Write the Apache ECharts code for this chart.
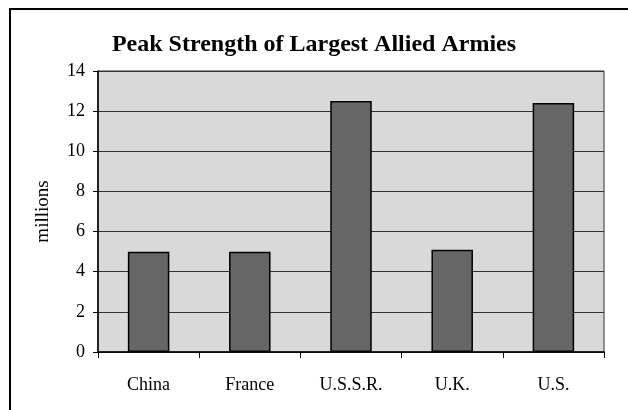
<!DOCTYPE html>
<html>
<head>
<meta charset="utf-8">
<script src="https://cdn.jsdelivr.net/npm/echarts@6/dist/echarts.min.js"></script>
<style>html,body{margin:0;padding:0;background:#fff;}#c{width:628px;height:410px;}</style>
</head>
<body>
<div id="c"></div>
<script>
const categories = ["China", "France", "U.S.S.R.", "U.K.", "U.S."];
const strength = [5.0, 5.0, 12.5, 5.1, 12.4];
const yTicks = [0, 2, 4, 6, 8, 10, 12, 14];
const titleText = "Peak Strength of Largest Allied Armies";
const yName = "millions";

const FONT = "'Liberation Serif', 'DejaVu Serif', serif";
const chart = echarts.init(document.getElementById('c'), null, {renderer: 'canvas'});
chart.setOption({
  backgroundColor: '#ffffff',
  animation: false,
  title: {
    text: titleText,
    left: 'center',
    top: 28,
    textStyle: {fontFamily: FONT, fontWeight: 'bold', fontSize: 24, color: '#000'}
  },
  graphic: [{
    type: 'rect',
    shape: {x: 10, y: 9, width: 640, height: 420},
    style: {fill: 'none', stroke: '#000', lineWidth: 2},
    silent: true
  }],
  grid: {
    left: 98, right: 24, top: 71, bottom: 58,
    show: true, backgroundColor: '#D9D9D9', borderColor: '#333', borderWidth: 1
  },
  xAxis: {
    type: 'category',
    data: categories,
    axisLine: {lineStyle: {color: '#000', width: 1.5}},
    axisTick: {show: true, alignWithLabel: false, length: 6, lineStyle: {color: '#000'}},
    axisLabel: {fontFamily: FONT, fontSize: 18, color: '#000', margin: 24}
  },
  yAxis: {
    type: 'value',
    min: yTicks[0], max: yTicks[yTicks.length - 1], interval: 2,
    name: yName,
    nameLocation: 'middle',
    nameGap: 45,
    nameRotate: 90,
    nameTextStyle: {fontFamily: FONT, fontSize: 19, color: '#000'},
    axisLine: {show: true, lineStyle: {color: '#000', width: 1.5}},
    axisTick: {show: true, length: 5, lineStyle: {color: '#000'}},
    axisLabel: {fontFamily: FONT, fontSize: 18, color: '#000', margin: 13},
    splitLine: {show: true, lineStyle: {color: '#333', width: 1}}
  },
  series: [{
    type: 'bar',
    data: strength,
    barWidth: '41%',
    itemStyle: {color: '#666666', borderColor: '#000', borderWidth: 1.5}
  }]
});
</script>
</body>
</html>
